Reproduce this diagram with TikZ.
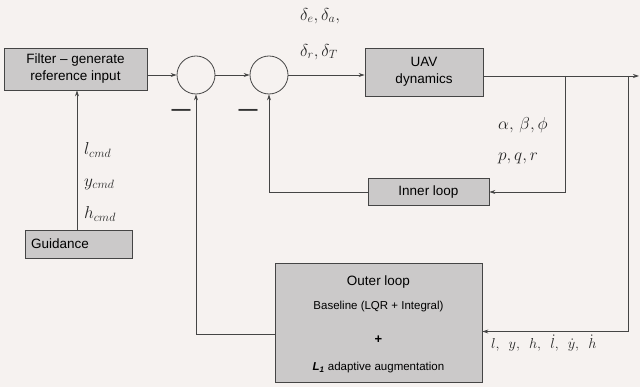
\documentclass[tikz,border=0pt]{standalone}
\usepackage{fontspec}
\setmainfont{Liberation Sans}
\usetikzlibrary{arrows.meta}
\definecolor{paper}{HTML}{F6F2F0}
\definecolor{boxgray}{HTML}{CBC9C9}
\definecolor{ink}{HTML}{454545}
\begin{document}
\begin{tikzpicture}[x=1pt,y=-1pt,
    blk/.style={draw=ink,fill=boxgray,line width=0.8pt,inner sep=0pt,align=center,
      font=\fontsize{13.5}{17}\selectfont},
    sumpt/.style={draw=ink,circle,minimum size=38pt,inner sep=0pt,line width=0.8pt},
    lbl/.style={anchor=west,inner sep=0pt,text=black!85,font=\fontsize{18}{20}\selectfont},
    >={Stealth[length=6pt,width=4pt]}]
  \fill[paper] (0,0) rectangle (640,387);
  \useasboundingbox (0,0) rectangle (640,387);
  \draw
    (75.5,69) node[blk,minimum width=143pt,minimum height=42pt] (filter){Filter -- generate\\reference input}
    (424,72) node[blk,minimum width=118pt,minimum height=48pt] (uav){UAV\\dynamics}
    (428.5,192) node[blk,minimum width=121pt,minimum height=27pt] (inner){Inner loop}
    (78.5,244) node[blk,minimum width=107pt,minimum height=28pt,text width=95pt,align=left] (guide){Guidance}
    (378.5,322.5) node[blk,minimum width=207pt,minimum height=119pt] (outer){}
    (196,75) node[sumpt] (s1){}
    (269,75) node[sumpt] (s2){};
  % text inside the outer loop block
  \draw
    (outer.center) ++(0,-40) node[font=\fontsize{13.5}{16}\selectfont] (olt){Outer loop}
    (outer.center) ++(0,-16) node[font=\fontsize{11.5}{14}\selectfont] (olb){Baseline (LQR + Integral)}
    (outer.center) ++(0,17) node[font=\bfseries\fontsize{13}{14}\selectfont] (olp){+}
    (outer.center) ++(0,45) node[font=\fontsize{11.5}{14}\selectfont] (ola){\textbf{\textit{L}\textsubscript{\textit{1}}} adaptive augmentation};
  % minus signs at the summing points
  \draw
    (181,112) node[font=\bfseries\fontsize{19}{19}\selectfont,text=black!80] (m1){—}
    (248,112) node[font=\bfseries\fontsize{19}{19}\selectfont,text=black!80] (m2){—};
  % signal labels
  \draw
    (300,16) node[lbl] (ctl1){$\delta_e,\delta_a,$}
    (300,52) node[lbl] (ctl2){$\delta_r,\delta_T$}
    (498,125) node[lbl] (ang){$\alpha,\,\beta,\phi$}
    (498,158) node[lbl] (rate){$p,q,r$}
    (84,150) node[lbl] (lc){$l_{cmd}$}
    (84,184) node[lbl] (yc){$y_{cmd}$}
    (84,214) node[lbl] (hc){$h_{cmd}$}
    (491,343) node[lbl,font=\fontsize{15.5}{18}\selectfont] (state){$l,\ \,y,\ \,h,\ \,\dot{l},\ \,\dot{y},\ \,\dot{h}$};
  \coordinate (b1) at (565,76);
  \coordinate (b2) at (628,76);
  \coordinate (out) at (639,76);
  \begin{scope}[draw=ink,line width=0.8pt]
    \draw[->] (filter.east |- s1) -- (s1);
    \draw[->] (s1) -- (s2);
    \draw[->] (s2) -- (uav.west |- s2);
    \draw[->] (uav.east |- out) -- (out);
    \draw[->] (b1) |- (inner.east);
    \draw[->] (inner.west) -| (s2.south);
    \draw[->] (b2) |- ([yshift=-9pt]outer.east);
    \draw[->] ([yshift=-12pt]outer.west) -| (s1.south);
    \draw[->] (guide.north -| 77,0) -- (filter.south -| 77,0);
  \end{scope}
\end{tikzpicture}
\end{document}
